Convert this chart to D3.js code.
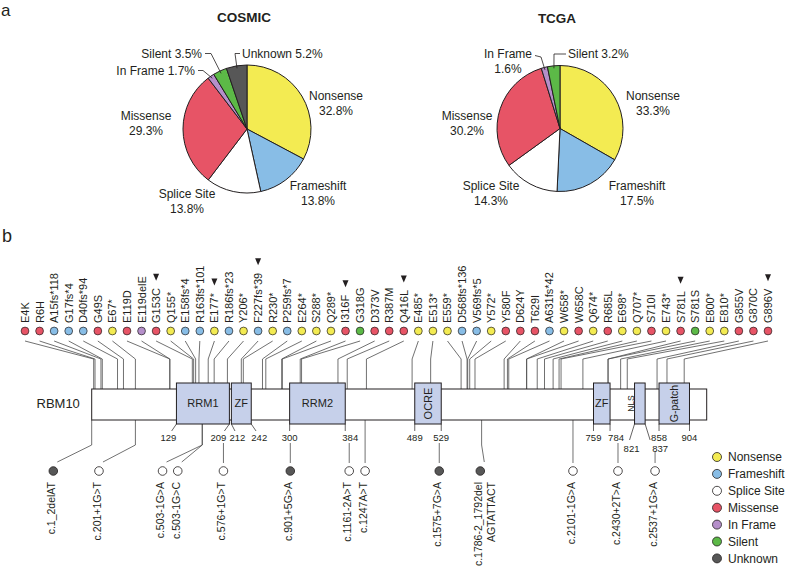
<!DOCTYPE html>
<html>
<head>
<meta charset="utf-8">
<script src="https://cdn.jsdelivr.net/npm/d3@7"></script>
<style>
  body { margin: 0; background: #fff; }
  svg text { font-family: "Liberation Sans", Arial, Helvetica, sans-serif; fill: #231f20; }
</style>
</head>
<body>
<svg id="fig" width="787" height="570"></svg>
<script>
// ---- data ----
const categories = ["Nonsense", "Frameshift", "Splice Site", "Missense", "In Frame", "Silent", "Unknown"];
const cosmicValues = [32.8, 13.8, 13.8, 29.3, 1.7, 3.5, 5.2];
const tcgaValues = [33.3, 17.5, 14.3, 30.2, 1.6, 3.2, 0];
const colours = ["#f3eb52", "#88bde6", "#ffffff", "#e75466", "#b58fca", "#5cb947", "#575757"];

const mutLabels = ["E4K", "R6H", "A15fs*118", "G17fs*4", "D40fs*94", "G49S", "E67*", "E119D", "E119delE",
  "G153C", "Q155*", "E158fs*4", "R163fs*101", "E177*", "R186fs*23", "Y206*", "F227fs*39", "R230*",
  "P259fs*7", "E264*", "S288*", "Q289*", "I316F", "G318G", "D373V", "R387M", "Q416L", "E485*", "E513*",
  "E559*", "D568fs*136", "V569fs*5", "Y572*", "Y580F", "D624Y", "T629I", "A631fs*42", "W658*", "W658C",
  "Q674*", "R685L", "E698*", "Q707*", "S710I", "E743*", "S781L", "S781S", "E800*", "E810*", "G855V",
  "G870C", "G896V"];
const mutPos = [4, 6, 15, 17, 40, 49, 67, 119, 119, 153, 155, 158, 163, 177, 186, 206, 227, 230, 259, 264,
  288, 289, 316, 318, 373, 387, 416, 485, 513, 559, 568, 569, 572, 580, 624, 629, 631, 658, 658, 674, 685,
  698, 707, 710, 743, 781, 781, 800, 810, 855, 870, 896];
const mutType = ["Missense", "Missense", "Frameshift", "Frameshift", "Frameshift", "Missense", "Nonsense",
  "Missense", "In Frame", "Missense", "Nonsense", "Frameshift", "Frameshift", "Nonsense", "Frameshift",
  "Nonsense", "Frameshift", "Nonsense", "Frameshift", "Nonsense", "Nonsense", "Nonsense", "Missense",
  "Silent", "Missense", "Missense", "Missense", "Nonsense", "Nonsense", "Nonsense", "Frameshift",
  "Frameshift", "Nonsense", "Missense", "Missense", "Missense", "Frameshift", "Nonsense", "Missense",
  "Nonsense", "Missense", "Nonsense", "Nonsense", "Missense", "Nonsense", "Missense", "Silent", "Nonsense",
  "Nonsense", "Missense", "Missense", "Missense"];
const hotspots = ["G153C", "E177*", "F227fs*39", "I316F", "Q416L", "S781L", "G896V"];

const spliceLabels = ["c.1_2delAT", "c.201+1G>T", "c.503-1G>A", "c.503-1G>C", "c.576+1G>T", "c.901+5G>A",
  "c.1161-2A>T", "c.1247A>T", "c.1575+7G>A", "c.1786-2_1792del|AGTATTACT", "c.2101-1G>A", "c.2430+2T>A",
  "c.2537+1G>A"];
const spliceType = ["Unknown", "Splice Site", "Splice Site", "Splice Site", "Splice Site", "Unknown",
  "Splice Site", "Splice Site", "Unknown", "Unknown", "Splice Site", "Splice Site", "Splice Site"];
const splicePos = [1, 67, 168, 168, 200, 301, 390, 414, 526, 590, 728, 796, 852];     // where the stem sits (aa)
const spliceMarkPos = [-57, 12, 108, 131, 200, 301, 390, 414, 526, 588, 728, 796, 852]; // where the circle sits (aa)
const spliceOnBar = [true, true, true, true, false, false, false, true, false, true, true, false, false];

const domainNames = ["RRM1", "ZF", "RRM2", "OCRE", "ZF", "NLS", "G-patch"];
const domainStart = [129, 212, 300, 489, 759, 821, 858];
const domainEnd = [209, 242, 384, 529, 784, 837, 904];
const proteinLength = 930;

// ---- setup ----
const svg = d3.select("#fig");
const ink = "#231f20";
const colourOf = d3.scaleOrdinal().domain(categories).range(colours);

svg.append("text").attr("x", 1).attr("y", 16).style("font-size", "17px").text("a");
svg.append("text").attr("x", 2).attr("y", 242).style("font-size", "18px").text("b");

// ---- pies ----
function drawPie(title, values, cx, cy, r, labelSpec) {
  const g = svg.append("g").attr("transform", `translate(${cx},${cy})`);
  const arcs = d3.pie().sort(null).value(d => d.v)(categories.map((c, i) => ({ c: c, v: values[i] })));
  const arc = d3.arc().innerRadius(0).outerRadius(r);

  g.selectAll("path.slice")
    .data(arcs.filter(a => a.data.v > 0))
    .join("path")
    .attr("class", "slice")
    .attr("d", arc)
    .attr("fill", d => colourOf(d.data.c))
    .attr("stroke", ink)
    .attr("stroke-width", 1)
    .attr("stroke-linejoin", "round");

  g.append("text")
    .attr("x", -3).attr("y", -r - 43)
    .attr("text-anchor", "middle")
    .style("font-size", "13.5px").style("font-weight", "bold")
    .text(title);

  labelSpec.forEach(s => {
    const a = arcs.find(d => d.data.c === s.cat);
    const pct = a.data.v.toFixed(1) + "%";
    const lines = s.oneLine ? [s.cat + " " + pct] : [s.cat, pct];
    const t = g.append("text")
      .attr("text-anchor", s.anchor || "middle")
      .style("font-size", "12px");
    lines.forEach((l, k) => {
      t.append("tspan").attr("x", s.x).attr("y", s.y + k * 15).text(l);
    });
    if (s.leader) {
      const mid = (a.startAngle + a.endAngle) / 2;
      const pts = s.leader.concat([[r * 0.96 * Math.sin(mid), -r * 0.96 * Math.cos(mid)]]);
      g.append("path")
        .attr("d", d3.line()(pts))
        .attr("fill", "none").attr("stroke", ink).attr("stroke-width", 0.8);
    }
  });
}

drawPie("COSMIC", cosmicValues, 247, 129, 64, [
  { cat: "Nonsense", x: 89, y: -29.5 },
  { cat: "Frameshift", x: 71, y: 60.5 },
  { cat: "Splice Site", x: -60, y: 68.5 },
  { cat: "Missense", x: -101, y: -9.5 },
  { cat: "In Frame", oneLine: true, anchor: "end", x: -52, y: -54.5, leader: [[-49, -58.5], [-44, -58.5]] },
  { cat: "Silent", oneLine: true, anchor: "end", x: -45, y: -71.5, leader: [[-42, -75.5], [-36, -75.5]] },
  { cat: "Unknown", oneLine: true, anchor: "start", x: -5, y: -71.5, leader: [[-7, -75.5], [-12, -75.5]] }
]);

drawPie("TCGA", tcgaValues, 560, 128.5, 63, [
  { cat: "Nonsense", x: 93, y: -29 },
  { cat: "Frameshift", x: 77, y: 61 },
  { cat: "Splice Site", x: -69, y: 61 },
  { cat: "Missense", x: -93, y: -9 },
  { cat: "In Frame", x: -52, y: -71, leader: [[-25, -73], [-19, -71.5]] },
  { cat: "Silent", oneLine: true, anchor: "start", x: 8, y: -71, leader: [[6, -74.5], [-6, -74.5]] }
]);

// ---- protein map ----
const x = d3.scaleLinear().domain([1, proteinLength]).range([91.7, 706.7]);
const xTop = d3.scalePoint().domain(d3.range(mutLabels.length)).range([25, 768]);
const barTop = 389, barBot = 420, boxTop = 383, boxBot = 424;
const rowY = 331, labelBase = 323;
const lineCol = "#4d4d4d";

const inDomain = p => domainStart.some((s, i) => p >= s && p <= domainEnd[i]);

// stems from the mutation circles down to the protein
svg.append("g").selectAll("path")
  .data(mutPos)
  .join("path")
  .attr("d", (p, i) => `M${xTop(i)},341L${x(p)},359V${barTop}`)
  .attr("fill", "none").attr("stroke", lineCol).attr("stroke-width", 0.8);

// tick labels for domain boundaries
const tickAA = [];
domainStart.forEach((s, i) => { tickAA.push(s, domainEnd[i]); });
const tickLayout = {
  129: { dx: -8 }, 209: { dx: -11, lx: -5 }, 212: { dx: 6 }, 242: { dx: 8 },
  384: { dx: 5, lx: 0 }, 784: { dx: 6, lx: 0 },
  821: { dx: -3, row: 2, lx: -5 }, 837: { dx: 15, row: 2, lx: 5 }
};
const ticks = tickAA.map(aa => {
  const l = tickLayout[aa] || { dx: 0 };
  return { aa: aa, dx: l.dx, lx: l.lx !== undefined ? l.lx : l.dx * 0.6, row: l.row || 1 };
});

// stems from the protein down to splice / unknown marks
const spliceG = svg.append("g");
spliceLabels.forEach((lab, i) => {
  const sx = x(splicePos[i]);
  const mx = x(spliceMarkPos[i]);
  let y0;
  if (spliceOnBar[i]) {
    y0 = inDomain(splicePos[i]) ? boxBot : barBot;
  } else {
    const underRow2 = ticks.some(t => t.row === 2 && Math.abs(x(t.aa) + t.dx - sx) < 9);
    y0 = underRow2 ? 451 : 443;
  }
  const d = Math.abs(mx - sx) > 1
    ? `M${sx},${y0}V445L${mx + 4},462`
    : `M${sx},${y0}V463`;
  spliceG.append("path").attr("d", d)
    .attr("fill", "none").attr("stroke", lineCol).attr("stroke-width", 0.8);
});

// protein bar
svg.append("rect")
  .attr("x", x(1)).attr("y", barTop)
  .attr("width", x(proteinLength) - x(1)).attr("height", barBot - barTop)
  .attr("fill", "#fff").attr("stroke", ink).attr("stroke-width", 1);

svg.append("text").attr("x", 36.5).attr("y", 408).style("font-size", "13px").text("RBM10");

// domains
const domG = svg.append("g");
domainNames.forEach((name, i) => {
  const x0 = x(domainStart[i]), x1 = x(domainEnd[i]);
  domG.append("rect")
    .attr("x", x0).attr("y", boxTop)
    .attr("width", x1 - x0).attr("height", boxBot - boxTop)
    .attr("fill", "#c6d0ea").attr("stroke", ink).attr("stroke-width", 1);
  const w = x1 - x0;
  const cy = (boxTop + boxBot) / 2;
  if (w < 14) {
    domG.append("text")
      .attr("transform", `translate(${x0 - 4},${cy}) rotate(-90)`)
      .attr("text-anchor", "middle").attr("dy", "0.35em")
      .style("font-size", "8.5px").text(name);
  } else {
    const t = domG.append("text").style("font-size", "11px").attr("text-anchor", "middle").text(name);
    if (t.node().getComputedTextLength() > w) {
      t.style("font-size", name.length > 5 ? "10.5px" : "11px")
        .attr("transform", `translate(${(x0 + x1) / 2},${cy}) rotate(-90)`)
        .attr("dy", "0.35em");
    } else {
      t.attr("x", (x0 + x1) / 2).attr("y", cy).attr("dy", "0.36em");
    }
  }
});

// boundary ticks + labels
const tickG = svg.append("g");
ticks.forEach(t => {
  const tx = x(t.aa);
  const yEnd = t.row === 1 ? 431 : 440;
  tickG.append("path")
    .attr("d", `M${tx},${boxBot}L${tx + t.lx},${yEnd}`)
    .attr("stroke", ink).attr("stroke-width", 0.7).attr("fill", "none");
  tickG.append("text")
    .attr("x", tx + t.dx).attr("y", t.row === 1 ? 440.5 : 451.5)
    .attr("text-anchor", "middle")
    .style("font-size", "9.5px")
    .text(t.aa);
});

// mutation circles + labels (top)
const topG = svg.append("g");
mutLabels.forEach((lab, i) => {
  const cx = xTop(i);
  topG.append("circle")
    .attr("cx", cx).attr("cy", rowY).attr("r", 3.9)
    .attr("fill", colourOf(mutType[i])).attr("stroke", ink).attr("stroke-width", 0.7);
  const t = topG.append("text")
    .attr("transform", `translate(${cx},${labelBase}) rotate(-90)`)
    .attr("dy", "0.36em")
    .style("font-size", "11px")
    .text(lab);
  if (hotspots.includes(lab)) {
    const top = labelBase - t.node().getComputedTextLength() - 11;
    topG.append("path")
      .attr("d", `M${cx - 3},${top - 3.5}L${cx + 3},${top - 3.5}L${cx},${top + 3.5}Z`)
      .attr("fill", ink);
  }
});

// splice / unknown circles + labels (bottom)
const botG = svg.append("g");
spliceLabels.forEach((lab, i) => {
  const cx = x(spliceMarkPos[i]);
  botG.append("circle")
    .attr("cx", cx).attr("cy", 471).attr("r", 4.3)
    .attr("fill", colourOf(spliceType[i])).attr("stroke", ink).attr("stroke-width", 0.8);
  lab.split("|").forEach((part, k) => {
    botG.append("text")
      .attr("transform", `translate(${cx - 2 + k * 12.5},482) rotate(-90)`)
      .attr("text-anchor", "end").attr("dy", "0.36em")
      .style("font-size", "10.5px")
      .text(part);
  });
});

// legend
const leg = svg.append("g").attr("transform", "translate(717,457)");
categories.forEach((c, i) => {
  leg.append("circle").attr("cx", 0).attr("cy", i * 16.9).attr("r", 4.5)
    .attr("fill", colourOf(c)).attr("stroke", ink).attr("stroke-width", 0.8);
  leg.append("text").attr("x", 11).attr("y", i * 16.9).attr("dy", "0.36em")
    .style("font-size", "12px").text(c);
});
</script>
</body>
</html>
